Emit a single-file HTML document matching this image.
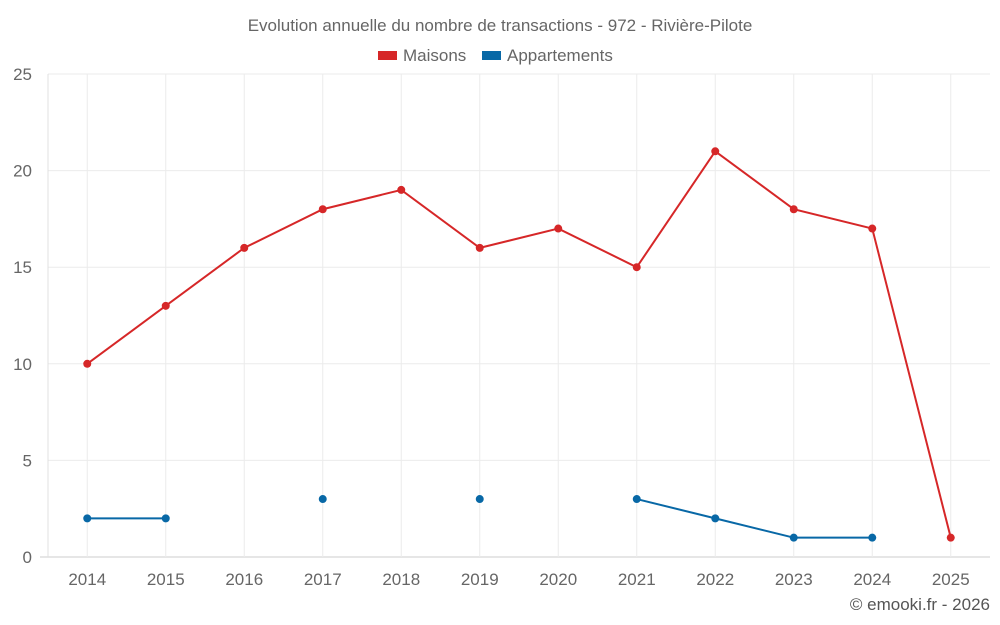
<!DOCTYPE html>
<html><head><meta charset="utf-8"><style>
html,body{margin:0;padding:0;background:#fff;}
svg{display:block;font-family:"Liberation Sans",sans-serif;}
</style></head><body>
<svg id="chart" width="1000" height="625">
<text x="500" y="31" text-anchor="middle" font-size="17" fill="#666">Evolution annuelle du nombre de transactions - 972 - Rivière-Pilote</text>
<g>
<g><rect x="378" y="51" width="19" height="9" fill="#d62728"/><text x="403" y="61" font-size="17" fill="#666">Maisons</text></g>
<g><rect x="482" y="51" width="19" height="9" fill="#0868a6"/><text x="507" y="61" font-size="17" fill="#666">Appartements</text></g>
</g>
<g id="grid"></g>
<g id="axes"></g>
<g id="series"></g>
<text x="990" y="610" text-anchor="end" font-size="17" fill="#555">© emooki.fr - 2026</text>
</svg>
<script>
const categories=["2014","2015","2016","2017","2018","2019","2020","2021","2022","2023","2024","2025"];
const maisons=[10,13,16,18,19,16,17,15,21,18,17,1];
const appartements=[2,2,null,3,null,3,null,3,2,1,1,null];
const yTicks=[0,5,10,15,20,25];
const L=48,R=990,T=74,B=557,yMax=25;
const band=(R-L)/categories.length;
const xs=i=>L+band*(i+0.5);
const ys=v=>B-(v/yMax)*(B-T);
const NS="http://www.w3.org/2000/svg";
function mk(tag,attrs,parent){const e=document.createElementNS(NS,tag);for(const k in attrs)e.setAttribute(k,attrs[k]);parent.appendChild(e);return e;}
const grid=document.getElementById('grid'),axes=document.getElementById('axes'),series=document.getElementById('series');
yTicks.forEach(t=>{
  const l=mk('line',{x1:t===0?40:L,x2:R,y1:ys(t),y2:ys(t),stroke:t===0?'#ccc':'#ebebeb','stroke-width':1},grid);
  
  
  const tx=mk('text',{x:32,y:ys(t)+6,'text-anchor':'end','font-size':17,fill:'#666'},axes);
  tx.textContent=t;
  
  
});
const ax=mk('line',{x1:L,x2:L,y1:T,y2:B,stroke:'#e0e0e0','stroke-width':1},grid);


categories.forEach((c,i)=>{
  const l=mk('line',{x1:xs(i),x2:xs(i),y1:T,y2:B,stroke:'#ebebeb','stroke-width':1},grid);
  
  
  const tx=mk('text',{x:xs(i),y:585,'text-anchor':'middle','font-size':17,fill:'#666'},axes);
  tx.textContent=c;
  
  
});
function draw(data,color,name){
  const g=mk('g',{},series);
  
  
  let d='',pen=false;
  data.forEach((v,i)=>{if(v==null){pen=false;return;}d+=(pen?'L':'M')+xs(i)+' '+ys(v)+' ';pen=true;});
  const p=mk('path',{d:d,fill:'none',stroke:color,'stroke-width':2},g);
  
  
  data.forEach((v,i)=>{if(v==null)return;
    const c=mk('circle',{cx:xs(i),cy:ys(v),r:4,fill:color},g);
    
    
  });
}
draw(maisons,'#d62728','maisons');
draw(appartements,'#0868a6','appartements');
</script>
</body></html>
